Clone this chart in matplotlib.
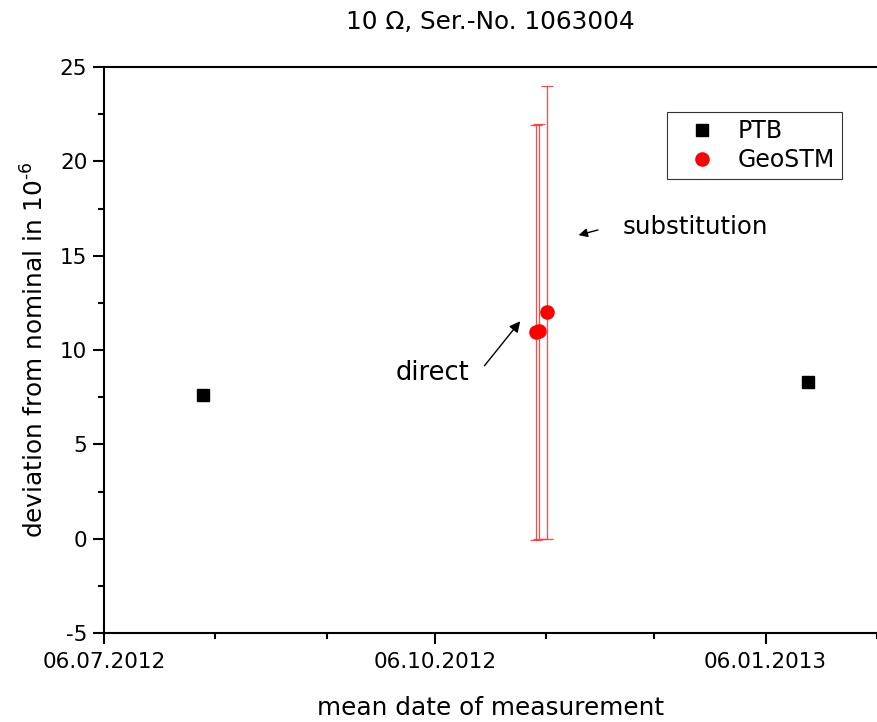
import matplotlib
matplotlib.use("Agg")
import matplotlib.pyplot as plt
import matplotlib.dates as mdates
import datetime as dt

plt.rcParams['font.family'] = ['DejaVu Sans']
plt.rcParams['axes.unicode_minus'] = False
plt.rcParams['mathtext.fontset'] = 'dejavusans'

# Data
ptb_dates = [dt.datetime(2012, 8, 2, 12), dt.datetime(2013, 1, 17, 18)]
ptb_values = [7.62, 8.30]

geo_dates = [dt.datetime(2012, 11, 3, 6), dt.datetime(2012, 11, 4, 3), dt.datetime(2012, 11, 6, 6)]
geo_values = [10.95, 11.0, 12.0]
geo_errors = [11.0, 11.0, 12.0]

major_ticks = [dt.datetime(2012, 7, 6), dt.datetime(2012, 10, 6), dt.datetime(2013, 1, 6)]
minor_ticks = [dt.datetime(2012, 8, 6), dt.datetime(2012, 9, 6), dt.datetime(2012, 11, 6),
               dt.datetime(2012, 12, 6), dt.datetime(2013, 2, 6)]
x_limits = [dt.datetime(2012, 7, 6), dt.datetime(2013, 2, 6)]

fig = plt.figure(figsize=(8.78, 7.22), dpi=100)
ax = fig.add_axes([104/878, 89/722, 773/878, 566/722])

ax.errorbar(geo_dates, geo_values, yerr=geo_errors, fmt='none', ecolor='#ff2a2a',
            elinewidth=0.9, capsize=4.2, capthick=0.9, alpha=0.85, zorder=2)
ax.plot(ptb_dates, ptb_values, linestyle='none', marker='s', markersize=8.5,
        color='black', label='PTB', zorder=3)
ax.plot(geo_dates, geo_values, linestyle='none', marker='o', markersize=10.5,
        color='#ff0000', markeredgewidth=0, label='GeoSTM', zorder=3)

ax.set_xlim(x_limits)
ax.set_ylim(-5, 25)
ax.set_xticks(major_ticks)
ax.set_xticks(minor_ticks, minor=True)
ax.xaxis.set_major_formatter(mdates.DateFormatter('%d.%m.%Y'))
ax.set_yticks([-5, 0, 5, 10, 15, 20, 25])
ax.set_yticks([-2.5, 2.5, 7.5, 12.5, 17.5, 22.5], minor=True)

for s in ['left', 'bottom', 'top']:
    ax.spines[s].set_linewidth(1.5)
ax.spines['right'].set_visible(False)
ax.tick_params(axis='both', which='major', direction='out', length=8, width=1.5,
               labelsize=15.5, pad=4)
ax.tick_params(axis='x', which='major', pad=6)
ax.tick_params(axis='both', which='minor', direction='out', length=4, width=1.5)

ax.set_xlabel('mean date of measurement', fontsize=17.8, labelpad=17)
ax.set_ylabel('deviation from nominal in 10$^{\\mathregular{\u20106}}$', fontsize=17.8, labelpad=8)
ax.set_title('10 \u03a9, Ser.-No. 1063004', fontsize=17.8, pad=27)

leg = ax.legend(loc='upper left', bbox_to_anchor=(563/773, 1 - 45/566), fontsize=17,
                frameon=True, fancybox=False, edgecolor='black', borderpad=0.3,
                handletextpad=0.34, labelspacing=0.22, handlelength=2.36, borderaxespad=0)
leg.get_frame().set_linewidth(0.8)

ax.annotate('', xy=(dt.datetime(2012, 10, 30, 6), 11.64), xytext=(dt.datetime(2012, 10, 19, 8), 9.05),
            arrowprops=dict(arrowstyle='-|>', color='black', lw=1, mutation_scale=16))
ax.text(dt.datetime(2012, 10, 5, 12), 8.8, 'direct', fontsize=18.5, ha='center', va='center')

ax.annotate('', xy=(dt.datetime(2012, 11, 14, 6), 16.05), xytext=(dt.datetime(2012, 11, 21, 3), 16.4),
            arrowprops=dict(arrowstyle='-|>', color='black', lw=1, mutation_scale=13))
ax.text(dt.datetime(2012, 11, 27, 6), 16.5, 'substitution', fontsize=17.6, ha='left', va='center')

fig.savefig('out.png', dpi=100)
